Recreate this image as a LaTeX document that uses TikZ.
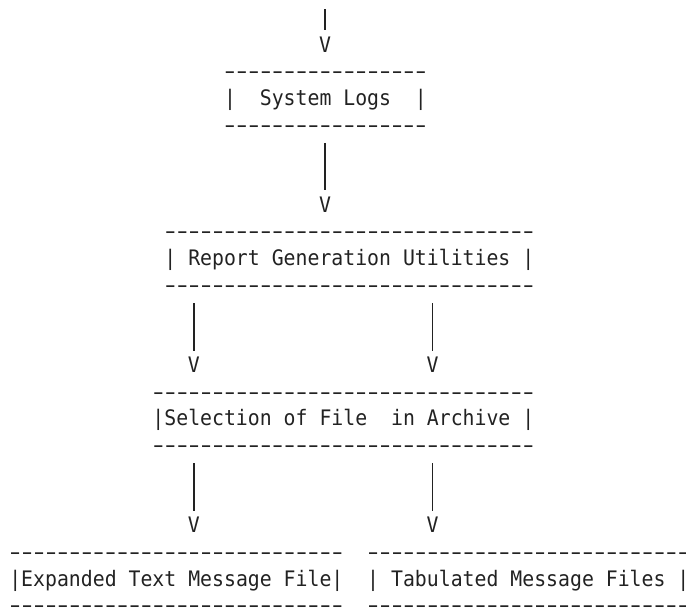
\documentclass[tikz,border=0pt]{standalone}
\usepackage{fontspec}
\setmonofont{DejaVu Sans Mono}[FakeStretch=0.929]
\usepackage{xcolor}
\usepackage{graphicx}
\definecolor{ink}{HTML}{222222}
\tikzstyle{asciibox} = [inner sep=0pt, anchor=base west, text=ink, font=\ttfamily\fontsize{16}{20.03}\selectfont]
\tikzstyle{arrowv} = [inner sep=0pt, anchor=base, text=ink, font=\ttfamily\fontsize{16}{20.03}\selectfont]
\tikzstyle{wire} = [draw=ink, line width=1.2pt, shorten <=7.8pt, shorten >=4.6pt]
\newcommand{\dashcell}{\makebox[8.9475pt]{\scalebox{1.6}[1]{-}}}
\newcommand{\dashrow}[1]{\foreach \i in {1,...,#1}{\dashcell}}
\newcommand{\boxrows}[3]{\vbox{\baselineskip=20.03pt\lineskiplimit=-\maxdimen
  \hbox{\dashrow{#1}}\hbox{#2}\hbox{\dashrow{#3}}}}

\begin{document}
\begin{tikzpicture}[x=8.9475pt,y=-20.03pt]
    \useasboundingbox (-0.757,-0.948) rectangle (56.74,21.93);
    % entry into the logs
    \coordinate (entry) at (26.5,-1);
    \node[arrowv] (v1) at (26.5,1) {V};
    \draw[wire] (entry) -- (v1);
    \node[asciibox] (logs) at (18,4) {\boxrows{17}{|\ \ System Logs\ \ |}{17}};
    \node[arrowv] (v2) at (26.5,7) {V};
    \draw[wire] (logs.south -| v2) -- (v2);
    % report generation
    \node[asciibox] (utils) at (13,10) {\boxrows{31}{| Report Generation Utilities |}{31}};
    \node[arrowv] (v3) at (15.5,13) {V};
    \node[arrowv] (v4) at (35.5,13) {V};
    \draw[wire] (utils.south -| v3) -- (v3);
    \draw[wire] (utils.south -| v4) -- (v4);
    % archive
    \node[asciibox] (select) at (12,16) {\boxrows{32}{|Selection of File\ \ in Archive |}{32}};
    \node[arrowv] (v5) at (15.5,19) {V};
    \node[arrowv] (v6) at (35.5,19) {V};
    \draw[wire] (select.south -| v5) -- (v5);
    \draw[wire] (select.south -| v6) -- (v6);
    % output files
    \node[asciibox] (expanded) at (0,22) {\boxrows{28}{|Expanded Text Message File|}{28}};
    \node[asciibox] (tabulated) at (30,22) {\boxrows{30}{| Tabulated Message Files |}{30}};
\end{tikzpicture}
\end{document}
